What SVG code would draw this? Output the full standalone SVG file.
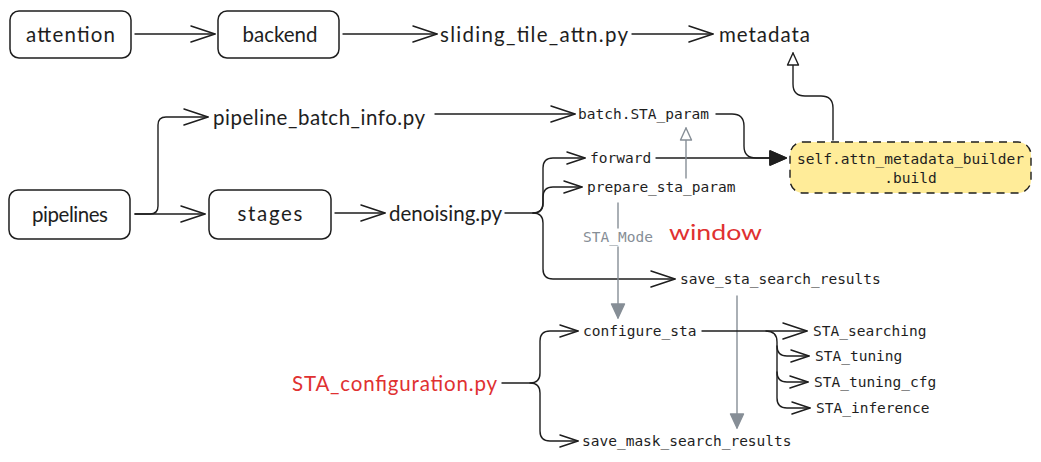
<svg xmlns="http://www.w3.org/2000/svg" width="1041" height="462" viewBox="0 0 1041 462">
<defs>
<style>
.hand{font-family:"Lato","Noto Sans",sans-serif;font-size:20.5px;fill:#1e1e1e;dominant-baseline:central}
.mono{font-family:"DejaVu Sans Mono","Liberation Mono",monospace;font-size:14.5px;fill:#1e1e1e;dominant-baseline:central}
.red{fill:#e03131}
.gray{fill:#868e96}
.box{fill:#ffffff;stroke:#1e1e1e;stroke-width:1.5}
.ln{fill:none;stroke:#1e1e1e;stroke-width:1.4;stroke-linecap:round;stroke-linejoin:round}
.gln{fill:none;stroke:#868e96;stroke-width:1.4;stroke-linecap:round}
</style>
<marker id="aL" viewBox="-30 -15 32 30" markerWidth="32" markerHeight="30" refX="0" refY="0" orient="auto" markerUnits="userSpaceOnUse"><path d="M-24,-8 L0,0 L-24,8" fill="none" stroke="#1e1e1e" stroke-width="1.5" stroke-linecap="round" stroke-linejoin="round"/></marker>
<marker id="aS" viewBox="-30 -15 32 30" markerWidth="32" markerHeight="30" refX="0" refY="0" orient="auto" markerUnits="userSpaceOnUse"><path d="M-18,-6 L0,0 L-18,6" fill="none" stroke="#1e1e1e" stroke-width="1.5" stroke-linecap="round" stroke-linejoin="round"/></marker>
<marker id="aF" viewBox="-30 -15 32 30" markerWidth="32" markerHeight="30" refX="0" refY="0" orient="auto" markerUnits="userSpaceOnUse"><path d="M-16,-7 L0,0 L-16,7 Z" fill="#1e1e1e" stroke="#1e1e1e" stroke-width="1.5" stroke-linejoin="round"/></marker>
<marker id="aH" viewBox="-30 -15 32 30" markerWidth="32" markerHeight="30" refX="0" refY="0" orient="auto" markerUnits="userSpaceOnUse"><path d="M-12,-5.5 L0,0 L-12,5.5 Z" fill="#ffffff" stroke="#1e1e1e" stroke-width="1.4" stroke-linejoin="round"/></marker>
<marker id="aGH" viewBox="-30 -15 32 30" markerWidth="32" markerHeight="30" refX="0" refY="0" orient="auto" markerUnits="userSpaceOnUse"><path d="M-12,-5.5 L0,0 L-12,5.5 Z" fill="#ffffff" stroke="#868e96" stroke-width="1.4" stroke-linejoin="round"/></marker>
<marker id="aGF" viewBox="-30 -15 32 30" markerWidth="32" markerHeight="30" refX="0" refY="0" orient="auto" markerUnits="userSpaceOnUse"><path d="M-14,-6.5 L0,0 L-14,6.5 Z" fill="#868e96" stroke="#868e96" stroke-width="1.4" stroke-linejoin="round"/></marker>
</defs>
<rect width="1041" height="462" fill="#ffffff"/>

<g id="connectors">
<path class="ln" d="M135,34 L215,34" marker-end="url(#aL)"/>
<path class="ln" d="M343,34 L437,34" marker-end="url(#aL)"/>
<path class="ln" d="M632,34 L713,34" marker-end="url(#aL)"/>
<path class="ln" d="M135,214 L205,214" marker-end="url(#aL)"/>
<path class="ln" d="M135,214 L150,214 Q158,214 158,206 L158,125 Q158,117 166,117 L208,117" marker-end="url(#aL)"/>
<path class="ln" d="M335,213 L385,213" marker-end="url(#aL)"/>
<path class="ln" d="M435,114 L575,114" marker-end="url(#aL)"/>
<path class="ln" d="M716,114 L732,114 Q744,114 744,126 L744,146 Q744,158 756,158 L786,158" marker-end="url(#aF)"/>
<path class="ln" d="M656,158 L786,158" marker-end="url(#aF)"/>
<path class="ln" d="M833,140 L833,108 Q833,96 821,96 L805,96 Q793,96 793,84 L793,53" marker-end="url(#aH)"/>
<path class="gln" d="M686,178 L686,128" marker-end="url(#aGH)"/>
<path class="ln" d="M505,213 L533,213 Q543,213 543,203 L543,168 Q543,158 553,158 L585,158" marker-end="url(#aS)"/>
<path class="ln" d="M533,213 Q543,213 543,203 L543,197 Q543,187 553,187 L582,187" marker-end="url(#aS)"/>
<path class="ln" d="M533,213 Q543,213 543,223 L543,269 Q543,279 553,279 L675,279" marker-end="url(#aL)"/>
<path class="gln" d="M618,203 L618,228"/>
<path class="gln" d="M618,247 L618,318" marker-end="url(#aGF)"/>
<path class="gln" d="M737,296 L737,428" marker-end="url(#aGF)"/>
<path class="ln" d="M502,383 L530,383 Q540,383 540,373 L540,341 Q540,331 550,331 L578,331" marker-end="url(#aS)"/>
<path class="ln" d="M530,383 Q540,383 540,393 L540,431 Q540,441 550,441 L578,441" marker-end="url(#aS)"/>
<path class="ln" d="M702,331 L807,331" marker-end="url(#aL)"/>
<path class="ln" d="M766,331 Q777,331 777,342 L777,346 Q777,356 787,356 L809,356" marker-end="url(#aS)"/>
<path class="ln" d="M777,346 L777,372 Q777,382 787,382 L808,382" marker-end="url(#aS)"/>
<path class="ln" d="M777,372 L777,398 Q777,408 787,408 L810,408" marker-end="url(#aS)"/>
</g>

<g id="attention"><rect class="box" x="10" y="11" width="121" height="47" rx="9"/><text class="hand" x="70.5" y="34" text-anchor="middle" textLength="89">attention</text></g>
<g id="backend"><rect class="box" x="218" y="11" width="121" height="47" rx="9"/><text class="hand" x="280" y="34" text-anchor="middle" textLength="75">backend</text></g>
<g id="sliding_tile_attn"><text class="hand" x="440" y="34" textLength="188">sliding_tile_attn.py</text></g>
<g id="metadata"><text class="hand" x="719" y="34" textLength="91">metadata</text></g>
<g id="pipeline_batch_info"><text class="hand" x="213" y="117" textLength="212">pipeline_batch_info.py</text></g>
<g id="pipelines"><rect class="box" x="9" y="190" width="121" height="49" rx="9"/><text class="hand" x="70" y="214" text-anchor="middle" textLength="76">pipelines</text></g>
<g id="stages"><rect class="box" x="209" y="190" width="122" height="49" rx="9"/><text class="hand" x="270" y="213" text-anchor="middle" textLength="65">stages</text></g>
<g id="denoising"><text class="hand" x="389" y="213" textLength="113">denoising.py</text></g>
<g id="batch_sta_param"><text class="mono" x="578" y="114">batch.STA_param</text></g>
<g id="forward"><text class="mono" x="590" y="158">forward</text></g>
<g id="prepare_sta_param"><text class="mono" x="587" y="187">prepare_sta_param</text></g>
<g id="builder"><rect x="790" y="142" width="241" height="51" rx="13" fill="#ffec99" stroke="#1e1e1e" stroke-width="1.4" stroke-dasharray="8 6"/><text class="mono" x="910.5" y="159" text-anchor="middle">self.attn_metadata_builder</text><text class="mono" x="910.5" y="178" text-anchor="middle">.build</text></g>
<g id="sta_mode"><text class="mono gray" x="618" y="237" text-anchor="middle">STA_Mode</text></g>
<g id="window"><text class="hand red" x="669" y="232" font-size="27" textLength="93" lengthAdjust="spacingAndGlyphs">window</text></g>
<g id="save_sta_search_results"><text class="mono" x="680" y="279">save_sta_search_results</text></g>
<g id="sta_configuration"><text class="hand red" x="292" y="383" textLength="205">STA_configuration.py</text></g>
<g id="configure_sta"><text class="mono" x="583" y="331">configure_sta</text></g>
<g id="save_mask_search_results"><text class="mono" x="582" y="441">save_mask_search_results</text></g>
<g id="sta_searching"><text class="mono" x="813" y="331">STA_searching</text></g>
<g id="sta_tuning"><text class="mono" x="815" y="356">STA_tuning</text></g>
<g id="sta_tuning_cfg"><text class="mono" x="814" y="382">STA_tuning_cfg</text></g>
<g id="sta_inference"><text class="mono" x="816" y="408">STA_inference</text></g>
</svg>
